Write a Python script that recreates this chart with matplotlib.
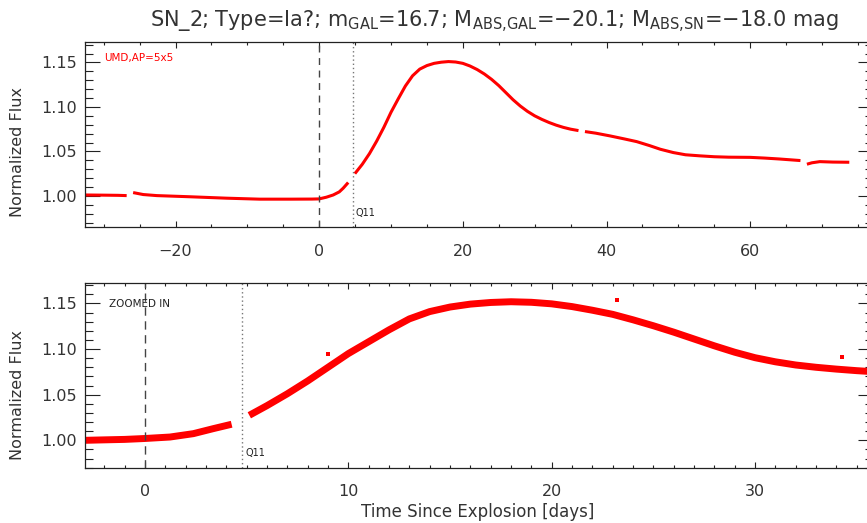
import matplotlib
matplotlib.use("Agg")
import matplotlib.pyplot as plt
from matplotlib.ticker import MultipleLocator, FormatStrFormatter

# ---------------- data ----------------
# top panel: full light curve, segments separated by data gaps
top_t_a = [-32.6, -30.0, -28.0, -26.8]
top_f_a = [1.0010, 1.0008, 1.0006, 1.0003]
top_t_b = [-25.9, -24.5, -22.6, -18.0, -12.9, -8.3, -4.0, -1.0, 0.0, 1.0, 1.95, 2.8, 3.34, 4.04]
top_f_b = [1.0037, 1.0015, 1.0003, 0.9990, 0.9974, 0.9963, 0.9963, 0.9964, 0.9966, 0.9985, 1.0010, 1.0045, 1.0086, 1.0150]
top_t_c = [4.97, 6.0, 7.0, 8.0, 9.0, 10.0, 11.0, 12.0, 13.0, 14.0, 15.0, 16.0, 17.0, 18.0, 19.0,
           20.0, 21.0, 22.0, 23.0, 24.0, 25.0, 26.0, 27.0, 28.0, 29.0, 30.0, 31.0, 32.0, 33.0,
           34.0, 35.0, 36.1]
top_f_c = [1.0250, 1.0355, 1.0475, 1.0615, 1.0770, 1.0940, 1.1090, 1.1235, 1.1350, 1.1425, 1.1465,
           1.1490, 1.1503, 1.1510, 1.1505, 1.1490, 1.1460, 1.1420, 1.1370, 1.1310, 1.1240, 1.1160,
           1.1080, 1.1010, 1.0950, 1.0900, 1.0860, 1.0825, 1.0795, 1.0770, 1.0750, 1.0734]
top_t_d = [37.0, 38.5, 40.5, 42.5, 44.2, 46.0, 47.5, 49.3, 51.0, 53.0, 55.0, 57.0, 60.0, 62.0, 64.0, 67.0]
top_f_d = [1.0723, 1.0705, 1.0674, 1.0640, 1.0610, 1.0565, 1.0524, 1.0487, 1.0462, 1.0450, 1.0440,
           1.0435, 1.0433, 1.0425, 1.0415, 1.0397]
top_t_e = [67.9, 68.6, 69.7, 71.5, 73.8]
top_f_e = [1.0356, 1.0372, 1.0385, 1.0380, 1.0378]

# bottom panel: zoomed-in view
bot_t_a = [-2.95, -2.0, -1.0, 0.0, 1.23, 2.38, 3.36, 4.26]
bot_f_a = [1.0000, 1.0005, 1.0010, 1.0020, 1.0036, 1.0073, 1.0128, 1.0176]
bot_t_b = [5.13, 6.0, 7.0, 8.0, 9.0, 10.0, 11.0, 12.0, 13.0, 14.0, 15.0, 16.0, 17.0, 18.0, 19.0,
           20.0, 21.0, 22.0, 23.0, 24.0, 25.0, 26.0, 27.0, 28.0, 29.0, 30.0, 31.0, 32.0, 33.0,
           34.0, 35.0, 35.8]
bot_f_b = [1.0274, 1.0380, 1.0510, 1.0650, 1.0800, 1.0950, 1.1080, 1.1210, 1.1330, 1.1410, 1.1460,
           1.1492, 1.1510, 1.1518, 1.1512, 1.1495, 1.1465, 1.1425, 1.1380, 1.1320, 1.1255, 1.1185,
           1.1110, 1.1035, 1.0965, 1.0905, 1.0860, 1.0825, 1.0800, 1.0780, 1.0763, 1.0752]
bot_out_t = [9.02, 23.23, 34.27]
bot_out_f = [1.0950, 1.1537, 1.0915]

t_explosion = 0.0
t_q11 = 4.75

title = (r"SN_2; Type=Ia?; $m_{GAL}$=16.7; $M_{ABS{,}GAL}$=" + "\u2212" + "20.1; "
         r"$M_{ABS{,}SN}$=" + "\u2212" + "18.0 mag")

# ---------------- style ----------------
plt.rcParams['font.family'] = ['DejaVu Sans']
plt.rcParams['mathtext.fontset'] = 'dejavusans'
plt.rcParams['mathtext.default'] = 'regular'
TXT = '#333333'
AX = '#222222'
RED = '#ff0000'

W, H = 867, 523
fig = plt.figure(figsize=(W / 100, H / 100), dpi=100)

def frac_ax(left, top, right, bottom):
    return [left / W, 1 - bottom / H, (right - left) / W, (bottom - top) / H]

ax1 = fig.add_axes(frac_ax(85, 42, 873, 227))
ax2 = fig.add_axes(frac_ax(85, 283.3, 873, 467.7))

def style(ax, xmaj, xmin):
    for s in ax.spines.values():
        s.set_color(AX)
        s.set_linewidth(0.9)
    ax.xaxis.set_major_locator(MultipleLocator(xmaj))
    ax.xaxis.set_minor_locator(MultipleLocator(xmin))
    ax.yaxis.set_major_locator(MultipleLocator(0.05))
    ax.yaxis.set_minor_locator(MultipleLocator(0.01))
    ax.yaxis.set_major_formatter(FormatStrFormatter('%.2f'))
    ax.tick_params(axis='both', which='both', direction='in', top=True, right=True,
                   color=AX, labelcolor=TXT, width=0.8)
    ax.tick_params(axis='x', which='major', length=4.5, pad=12, labelsize=11.5)
    ax.tick_params(axis='x', which='minor', length=2.5)
    ax.tick_params(axis='y', which='major', length=11, pad=6, labelsize=11.5)
    ax.tick_params(axis='y', which='minor', length=5.5)

# top panel
for tt, ff in [(top_t_a, top_f_a), (top_t_b, top_f_b), (top_t_c, top_f_c),
               (top_t_d, top_f_d), (top_t_e, top_f_e)]:
    ax1.plot(tt, ff, color=RED, lw=2.2, solid_capstyle='butt', solid_joinstyle='round')
ax1.set_xlim(-32.6, 77.1)
ax1.set_ylim(0.965, 1.173)
ax1.axvline(t_explosion, color='#444444', lw=1.0, ls=(0, (5, 4)))
ax1.axvline(t_q11, color='#777777', lw=1.0, ls=(0, (1, 2)))
ax1.text(t_q11 + 0.3, 0.9805, 'Q11', fontsize=7, color='#222222', va='center', ha='left')
ax1.text(0.024, 0.915, 'UMD,AP=5x5', transform=ax1.transAxes, fontsize=7.5,
         color=RED, va='center', ha='left')
style(ax1, 20, 5)

# bottom panel
for tt, ff in [(bot_t_a, bot_f_a), (bot_t_b, bot_f_b)]:
    ax2.plot(tt, ff, color=RED, lw=5.0, solid_capstyle='butt', solid_joinstyle='round')
ax2.scatter(bot_out_t, bot_out_f, color=RED, s=5, marker='s', linewidths=0)
ax2.set_xlim(-2.95, 35.8)
ax2.set_ylim(0.970, 1.172)
ax2.axvline(t_explosion, color='#444444', lw=1.0, ls=(0, (6, 4)))
ax2.axvline(t_q11, color='#777777', lw=1.0, ls=(0, (1, 2)))
ax2.text(t_q11 + 0.2, 0.9865, 'Q11', fontsize=7, color='#222222', va='center', ha='left')
ax2.text(0.031, 0.89, 'ZOOMED IN', transform=ax2.transAxes, fontsize=7.5,
         color='#222222', va='center', ha='left')
style(ax2, 10, 1)

# labels
fig.text(494 / W, 1 - 22 / H, title, ha='center', va='center', fontsize=15, color=TXT)
fig.text(18 / W, 1 - 152 / H, 'Normalized Flux', rotation=90, ha='center', va='center',
         fontsize=11.5, color=TXT)
fig.text(18 / W, 1 - 395 / H, 'Normalized Flux', rotation=90, ha='center', va='center',
         fontsize=11.5, color=TXT)
fig.text(478 / W, 1 - 512 / H, 'Time Since Explosion [days]', ha='center', va='center',
         fontsize=12, color=TXT)

fig.savefig('out.png', dpi=100)
